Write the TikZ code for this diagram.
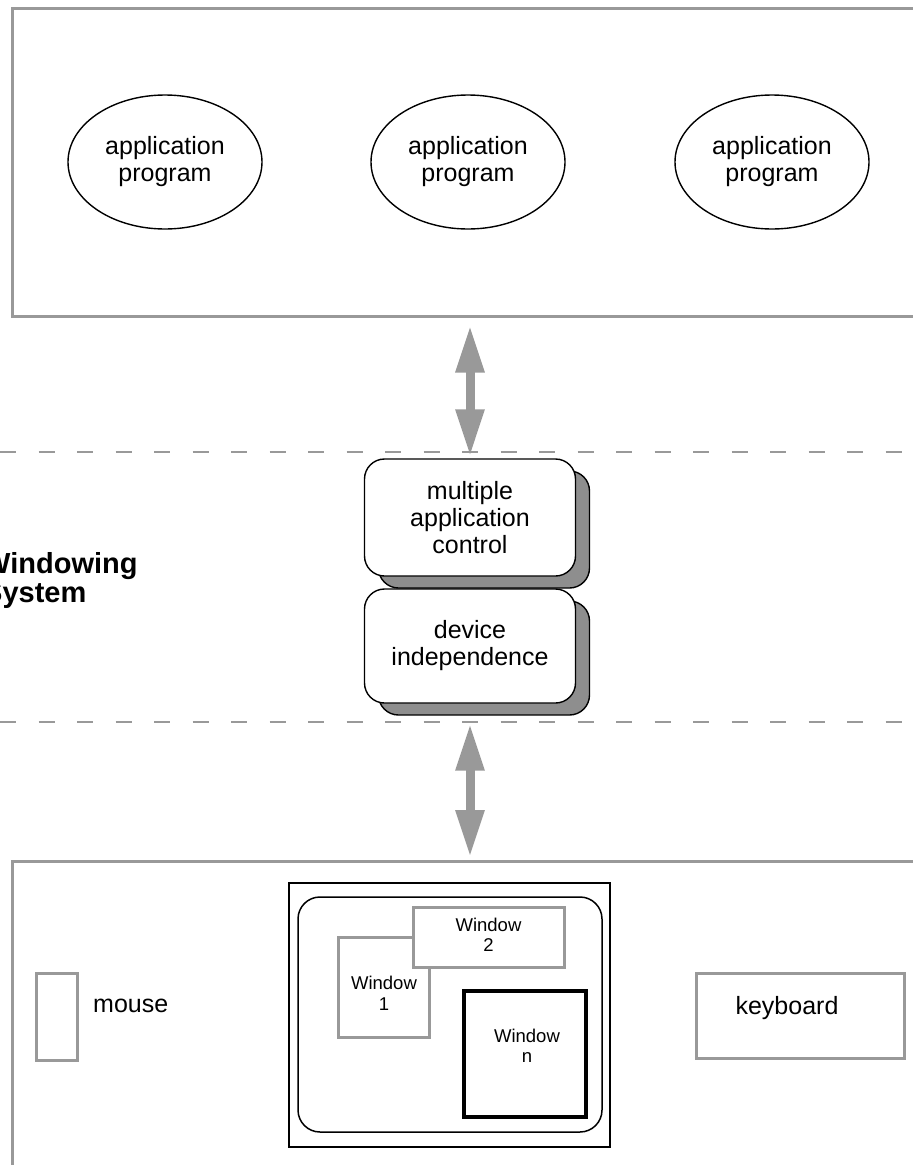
\documentclass[tikz,border=0pt]{standalone}
\usepackage{fontspec}
\setmainfont{Liberation Sans}
\usetikzlibrary{arrows.meta,shapes.geometric,shadows}
\definecolor{frame}{HTML}{999999}
\definecolor{shade}{HTML}{8E8E8E}

\begin{document}
\begin{tikzpicture}[x=1pt,y=-1pt,
  layer/.style={draw=frame, line width=2.5pt, rectangle, inner sep=0pt, anchor=north west},
  app/.style={draw, ellipse, line width=1.4pt, minimum width=194pt, minimum height=134pt,
    inner sep=0pt, align=center, font=\fontsize{25}{27}\selectfont},
  service/.style={draw, fill=white, rounded corners=20pt, line width=1.4pt,
    minimum width=211pt, inner sep=0pt, align=center, font=\fontsize{25}{27}\selectfont,
    general shadow={shadow xshift=14pt, shadow yshift=-12pt, fill=shade, draw=black, line width=1.4pt}},
  sepline/.style={draw=frame, line width=2pt, dash pattern=on 16pt off 22.5pt},
  fatarrow/.style={draw=frame, line width=9pt,
    arrows={Triangle[width=27pt,length=47pt]-Triangle[width=27pt,length=47pt]}},
  device/.style={draw=frame, line width=3pt, rectangle, inner sep=0pt},
  win/.style={draw=frame, fill=white, line width=3pt, rectangle, inner sep=0pt},
  activewin/.style={draw=black, fill=white, line width=4pt, rectangle, inner sep=0pt},
  label/.style={inner sep=0pt, align=center, font=\fontsize{25}{27}\selectfont},
  winlabel/.style={inner sep=0pt, align=center, font=\fontsize{18.5}{20.5}\selectfont},
]
\useasboundingbox (0,0) rectangle (913,1165);
\clip (0,0) rectangle (913,1165);

% application layer
\node[layer, minimum width=930pt, minimum height=308pt] (apps) at (11,7) {};
\node[app] (app1) at (165,162) {application\\program};
\node[app] (app2) at (468,162) {application\\program};
\node[app] (app3) at (772,162) {application\\program};

% windowing system layer
\draw[sepline] (0,452) -- (913,452);
\draw[sepline] (0,722) -- (913,722);
\node[font=\bfseries\fontsize{29}{29}\selectfont, align=left, anchor=base west, inner sep=0pt]
  (wsys) at (-17,602) {Windowing\\System};
\node[service, minimum height=117pt] (mac) at (470,517.5) {multiple\\application\\control};
\node[service, minimum height=114pt] (dev) at (470,646) {device\\independence};

% hardware layer
\node[layer, minimum width=930pt, minimum height=330pt] (hw) at (11,860) {};
\node[device, minimum width=41pt, minimum height=87pt] (mouse) at (56.5,1016.5) {};
\node[label, anchor=west] (mousetxt) at (93,1006) {mouse};
\node[device, minimum width=208pt, minimum height=85pt] (keyb) at (800,1015.5) {};
\node[label] (keybtxt) at (787,1008) {keyboard};

\node[draw, line width=1.5pt, minimum width=321pt, minimum height=264pt, inner sep=0pt]
  (screen) at (449.5,1015) {};
\node[draw, line width=1.5pt, rounded corners=22pt, minimum width=304pt, minimum height=235pt, inner sep=0pt]
  (desk) at (450,1014.5) {};
\node[win, minimum width=91pt, minimum height=100pt] (w1) at (383.5,987) {};
\node[winlabel] (w1txt) at (384,993.5) {Window\\1};
\node[win, minimum width=151pt, minimum height=60pt] (w2) at (488.5,937) {};
\node[winlabel] (w2txt) at (488.5,935) {Window\\2};
\node[activewin, minimum width=122pt, minimum height=126pt] (wn) at (525,1054) {};
\node[winlabel] (wntxt) at (527,1046) {Window\\n};

% two-way flow between the layers
\draw[fatarrow, shorten <=8pt, shorten >=2pt] (mac.north |- apps.south) -- (mac.north);
\draw[fatarrow, shorten <=20pt, shorten >=3pt] (dev.south) -- (dev.south |- hw.north);
\end{tikzpicture}
\end{document}
